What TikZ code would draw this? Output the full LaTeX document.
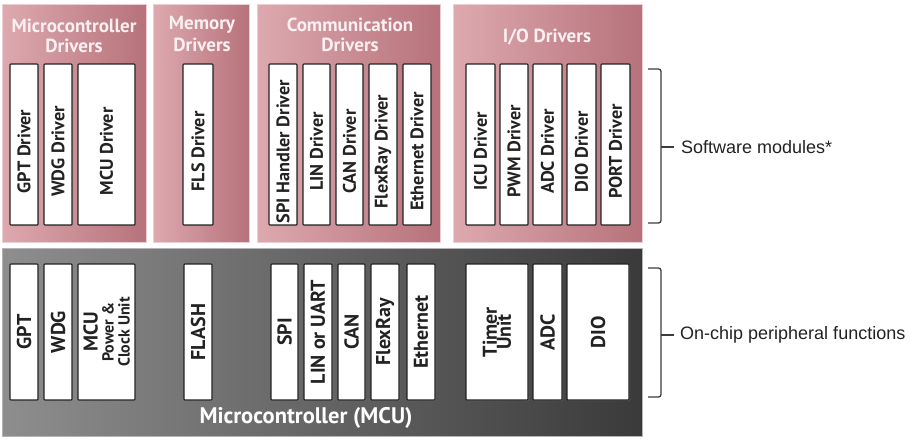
\documentclass[tikz,border=0pt]{standalone}
\usepackage{fontspec}
\setmainfont{PT Sans}
\newfontfamily\arialf{Liberation Sans}
\usetikzlibrary{shadows}
\definecolor{pinkL}{HTML}{DDA9AF}
\definecolor{pinkR}{HTML}{B7727B}
\definecolor{pinkB}{HTML}{EBCFD2}
\definecolor{greyL}{HTML}{8E8E8E}
\definecolor{greyR}{HTML}{3A3A3A}
\definecolor{greyB}{HTML}{B4B4B4}
\definecolor{txtD}{HTML}{222222}
\definecolor{ttlW}{HTML}{FBF0F1}
\definecolor{brc}{HTML}{3C3C3C}
\newcommand\mkdrv[4]{%
  \node[wbox, minimum width={#3-#2}, minimum height=161] (#1) at ({(#2+#3)/2},144.5) {};
  \node[btxt, rotate=90] (#1t) at ([yshift=-7pt]#1.center) {#4};}
\newcommand\mkhw[4]{%
  \node[wbox, minimum width={#3-#2}, minimum height=136] (#1) at ({(#2+#3)/2},332) {};
  \node[htxt, rotate=90] (#1t) at (#1.center) {#4};}
\begin{document}
\begin{tikzpicture}[x=1pt,y=-1pt,
  grp/.style={draw=pinkB, line width=1pt, left color=pinkL, right color=pinkR, inner sep=0pt, rectangle},
  mcubox/.style={draw=greyB, line width=1pt, left color=greyL, right color=greyR, inner sep=0pt, rectangle},
  wbox/.style={draw=txtD, line width=1.1pt, fill=white, inner sep=0pt, rectangle, rounded corners=0.8pt,
    drop shadow={shadow xshift=1pt, shadow yshift=-1pt, opacity=.45}},
  btxt/.style={font=\fontsize{18.2}{20}\selectfont\bfseries, text=txtD, inner sep=0pt, align=center},
  htxt/.style={font=\fontsize{20}{17}\selectfont\bfseries, text=txtD, inner sep=0pt, align=center},
  ttl/.style={font=\fontsize{19}{20}\selectfont\bfseries, text=ttlW, inner sep=0pt},
  side/.style={font=\arialf\fontsize{18}{20}\selectfont, text=txtD, anchor=west, inner sep=0pt},
  brace/.style={draw=brc, line width=1.3pt, rounded corners=2.5pt}]
\useasboundingbox (0,0) rectangle (917,440);
% groups
\node[grp, minimum width=144, minimum height=238] (g1) at (74,123) {};
\node[grp, minimum width=96, minimum height=238] (g2) at (201,123) {};
\node[grp, minimum width=183, minimum height=238] (g3) at (348.5,123) {};
\node[grp, minimum width=189, minimum height=238] (g4) at (547.5,123) {};
\node[mcubox, minimum width=640, minimum height=188] (mcu) at (322,342) {};
% titles
\node[ttl] (t1a) at (74,26) {Microcontroller};
\node[ttl] (t1b) at (74,46) {Drivers};
\node[ttl] (t2a) at (202,25) {Memory};
\node[ttl] (t2b) at (202,45) {Drivers};
\node[ttl] (t3a) at (350,25) {Communication};
\node[ttl] (t3b) at (350,45) {Drivers};
\node[ttl] (t4) at (547,37) {I/O Drivers};
% driver boxes
\mkdrv{gptd}{10}{38}{GPT Driver}
\mkdrv{wdgd}{44}{72}{WDG Driver}
\mkdrv{mcud}{78}{135}{MCU Driver}
\mkdrv{flsd}{183}{213}{FLS Driver}
\mkdrv{spid}{269}{297}{SPI Handler Driver}
\mkdrv{lind}{303}{330}{LIN Driver}
\mkdrv{cand}{336}{363}{CAN Driver}
\mkdrv{frd}{369}{397}{FlexRay Driver}
\mkdrv{ethd}{403}{431}{Ethernet Driver}
\mkdrv{icud}{466}{495}{ICU Driver}
\mkdrv{pwmd}{500}{528}{PWM Driver}
\mkdrv{adcd}{533}{562}{ADC Driver}
\mkdrv{diod}{567}{596}{DIO Driver}
\mkdrv{portd}{601}{630}{PORT Driver}
% hardware boxes
\mkhw{gpt}{10}{38}{GPT}
\mkhw{wdg}{44}{72}{WDG}
\mkhw{mcup}{78}{135}{MCU\\[-1pt]{\fontsize{16}{16}\selectfont Power \&}\\[-1pt]{\fontsize{16}{16}\selectfont Clock Unit}}
\mkhw{flash}{184}{212}{FLASH}
\mkhw{spi}{271}{298}{SPI}
\mkhw{lin}{304}{332}{LIN or UART}
\mkhw{can}{338}{365}{CAN}
\mkhw{fr}{371}{399}{FlexRay}
\mkhw{eth}{407}{435}{Ethernet}
\mkhw{tim}{466}{528}{Timer\\[-3pt]Unit}
\mkhw{adc}{533}{562}{ADC}
\mkhw{dio}{567}{629}{DIO}
\node[font=\fontsize{22.5}{24}\selectfont\bfseries, text=white, inner sep=0pt] (mcul) at (306,418) {Microcontroller (MCU)};
% braces
\coordinate (b1t) at (648,69);
\coordinate (b1b) at (648,223);
\coordinate (b1m) at (674,147);
\draw[brace] (b1t) -- (661,69) -- (661,223) -- (b1b);
\draw[brace] (661,147) -- (b1m);
\node[side] (sw) at (681,147) {Software modules*};
\coordinate (b2t) at (648,268);
\coordinate (b2b) at (648,397);
\coordinate (b2m) at (674,335);
\draw[brace] (b2t) -- (661,268) -- (661,397) -- (b2b);
\draw[brace] (661,335) -- (b2m);
\node[side] (hw) at (680,335) {On-chip peripheral functions};
\end{tikzpicture}
\end{document}
